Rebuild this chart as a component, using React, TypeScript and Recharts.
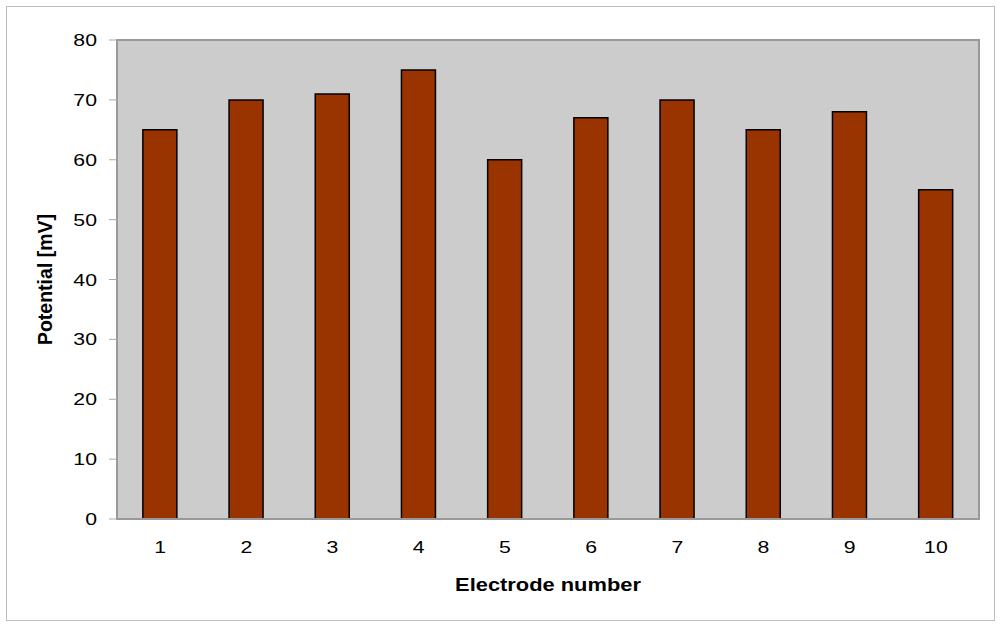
import React from 'react';
import { BarChart, Bar, XAxis, YAxis, CartesianGrid, ReferenceArea } from 'recharts';

const electrodes = ['1', '2', '3', '4', '5', '6', '7', '8', '9', '10'];
const potentials = [65, 70, 71, 75, 60, 67, 70, 65, 68, 55];
const yTicks = [0, 10, 20, 30, 40, 50, 60, 70, 80];
const edgeTicks = [0.5, 1.5, 2.5, 3.5, 4.5, 5.5, 6.5, 7.5, 8.5, 9.5, 10.5];

const data = electrodes.map((e, i) => ({ electrode: e, potential: potentials[i] }));

const font = '"Liberation Sans", Arial, sans-serif';
// the original picture is stretched sideways a bit
const stretch = 'scale(1.25,1)';

const YTick = ({ x, y, payload }: any) => (
  <g transform={`translate(${x},${y})`}>
    <text transform={stretch} textAnchor="end" dy="0.355em" fill="#000" fontSize={17} fontFamily={font}>
      {payload.value}
    </text>
  </g>
);

const XTick = ({ x, y, payload }: any) => (
  <g transform={`translate(${x},${y})`}>
    <text transform={stretch} textAnchor="middle" dy="0.71em" fill="#000" fontSize={17} fontFamily={font}>
      {payload.value}
    </text>
  </g>
);

const XTitle = ({ viewBox }: any) => {
  if (!viewBox) return null;
  const cx = viewBox.x + viewBox.width / 2;
  return (
    <g transform={`translate(${cx},${viewBox.y + 72})`}>
      <text transform={stretch} textAnchor="middle" fill="#000" fontSize={17.5} fontWeight="bold" fontFamily={font}>
        Electrode number
      </text>
    </g>
  );
};

export default function App() {
  return (
    <div style={{ position: 'absolute', left: 0, top: 0, width: 1000, height: 626, background: '#fff', fontFamily: font }}>
      <div style={{ position: 'absolute', left: 6, top: 6, width: 987, height: 613, border: '1px solid #bdbdbd' }} />
      <BarChart
        width={1000}
        height={626}
        data={data}
        margin={{ top: 40, right: 21, left: 57, bottom: 47 }}
        barCategoryGap="30%"
        style={{ position: 'absolute', left: 0, top: 0 }}
      >
        <CartesianGrid fill="#cccccc" stroke="#b4b4b4" vertical={false} />
        <ReferenceArea yAxisId="y" xAxisId="cat" y1={0} y2={80} fill="none" stroke="#999999" strokeWidth={2} />
        <XAxis
          xAxisId="edges"
          type="number"
          domain={[0.5, 10.5]}
          ticks={edgeTicks}
          tick={false}
          height={0}
          tickSize={6}
          axisLine={false}
          tickLine={{ stroke: '#aaaaaa' }}
        />
        <XAxis
          xAxisId="cat"
          dataKey="electrode"
          height={60}
          tickLine={false}
          tickSize={6}
          tickMargin={16}
          axisLine={{ stroke: '#999999', strokeWidth: 2 }}
          tick={<XTick />}
          label={<XTitle />}
        />
        <YAxis
          yAxisId="y"
          domain={[0, 80]}
          ticks={yTicks}
          width={60}
          tickSize={8}
          tickMargin={12}
          axisLine={{ stroke: '#999999', strokeWidth: 2 }}
          tickLine={{ stroke: '#aaaaaa' }}
          tick={<YTick />}
          label={{ value: 'Potential [mV]', angle: -90, position: 'insideLeft', offset: -12, fill: '#000', fontSize: 19.5, fontWeight: 'bold', fontFamily: font, style: { textAnchor: 'middle' } }}
        />
        <Bar
          xAxisId="cat"
          yAxisId="y"
          dataKey="potential"
          fill="#993300"
          stroke="#000000"
          strokeWidth={1.5}
          isAnimationActive={false}
        />
      </BarChart>
    </div>
  );
}
